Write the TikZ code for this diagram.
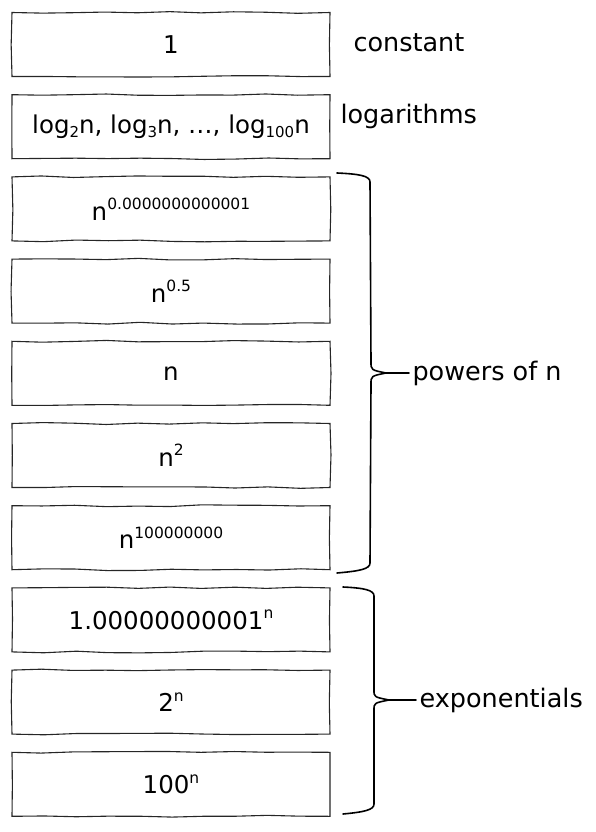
\documentclass[tikz,border=0pt]{standalone}
\usepackage{fontspec}
\setmainfont{DejaVu Sans}
\usetikzlibrary{positioning}
\usetikzlibrary{decorations.pathmorphing}
\newcommand{\up}[1]{\raisebox{0.8ex}{\fontsize{15.5}{15.5}\selectfont #1}}
\newcommand{\dn}[1]{\raisebox{-0.3ex}{\fontsize{15}{15}\selectfont #1}}

\begin{document}
\pgfmathsetseed{11}
\begin{tikzpicture}[x=1pt,y=-1pt,node distance=82.2pt,
  every node/.style={font=\fontsize{24.5}{28}\selectfont},
  rung/.style={draw=black!85,line width=1.1pt,minimum width=318pt,minimum height=64pt,inner sep=0pt,
    decorate,decoration={random steps,segment length=32pt,amplitude=1pt}},
  brace/.style={draw,line width=1.6pt,line join=round,line cap=round}]
  \useasboundingbox (0,0) rectangle (596,832);

  \node[rung] (1) at (171,44.5) {1};
  \node[rung,below of =1](2) {log\dn{2}n, log\dn{3}n, …, log\dn{100}n};
  \node[rung,below of =2](3) {n\up{0.0000000000001}};
  \node[rung,below of =3](4) {n\up{0.5}};
  \node[rung,below of =4](5) {n};
  \node[rung,below of =5](6) {n\up{2}};
  \node[rung,below of =6](7) {n\up{100000000}};
  \node[rung,below of =7](8) {1.00000000001\up{n}};
  \node[rung,below of =8](9) {2\up{n}};
  \node[rung,below of =9](10) {100\up{n}};

  \node[anchor=west,font=\fontsize{25.5}{28}\selectfont] (const) at (350,43) {constant};
  \node[anchor=west,font=\fontsize{25.5}{28}\selectfont] (log) at (337,116) {logarithms};
  \node[anchor=west,font=\fontsize{25.5}{28}\selectfont] (pow) at (409,373) {powers of n};
  \node[anchor=west,font=\fontsize{25.5}{28}\selectfont] (exp) at (416,700) {exponentials};

  % braces
  \coordinate (ptip) at (386,373);
  \coordinate (etip) at (389,700);
  \draw[brace] (337,173) .. controls (360,174) and (370,176) .. (370,182) -- (371,362)
    .. controls (371,370) .. (ptip) .. controls (371,376) .. (371,384) -- (370,563)
    .. controls (370,569) and (360,571) .. (337,573);
  \draw[brace] (343,587) .. controls (364,588) and (374,590) .. (374,596) -- (374,690)
    .. controls (374,697) .. (etip) .. controls (374,703) .. (374,710) -- (374,804)
    .. controls (374,810) and (364,812) .. (343,814);
  \draw[brace] (ptip) -- (pow);
  \draw[brace] (etip) -- (exp);
\end{tikzpicture}
\end{document}
